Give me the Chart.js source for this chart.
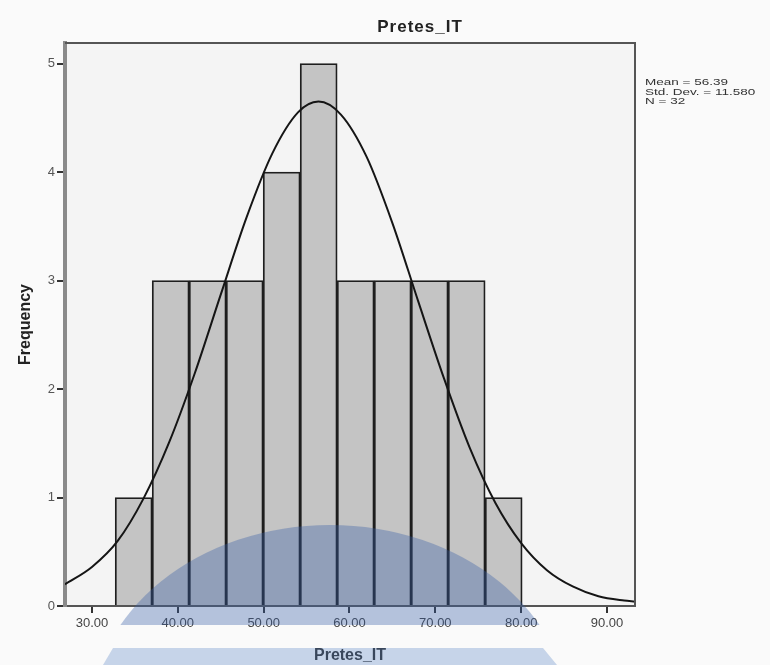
<!DOCTYPE html>
<html lang="en">
<head>
<meta charset="UTF-8"/>
<title>Pretes_IT</title>
<script src="https://cdn.jsdelivr.net/npm/chart.js@4.4.0/dist/chart.umd.min.js"></script>
<style>
  body { margin: 0; background: #fafafa; }
  #wrap { position: relative; width: 770px; height: 665px; font-family: "Liberation Sans", Arial, sans-serif; }
  #title { position: absolute; left: 420px; top: 17px; transform: translateX(-50%); font-weight: bold; font-size: 17px; letter-spacing: 1px; color: #222; }
  #stats { position: absolute; left: 645px; top: 78px; font-size: 9px; line-height: 9.5px; color: #333; transform: scaleX(1.5); transform-origin: left top; white-space: nowrap; }
  .dome { position: absolute; left: 0; top: 500px; width: 770px; height: 125px; overflow: hidden; pointer-events: none; }
  .dome div { position: absolute; left: 90px; top: 25px; width: 480px; height: 390px; border-radius: 50%; background: rgba(55, 95, 165, 0.36); }
  .band { position: absolute; left: 100px; top: 648px; width: 460px; height: 17px; background: rgba(100, 140, 200, 0.35);
          clip-path: polygon(13px 0, 443px 0, 457px 100%, 3px 100%); pointer-events: none; }
</style>
</head>
<body>
<div id="wrap">
  <canvas id="chart"></canvas>
  <div id="title">Pretes_IT</div>
  <div id="stats">Mean = 56.39<br>Std. Dev. = 11.580<br>N = 32</div>
  <div class="dome"><div></div></div>
  <div class="band"></div>
</div>
<script>
// histogram bins (centres) and counts
const binCenters = [34.86, 39.17, 43.48, 47.79, 52.10, 56.41, 60.72, 65.03, 69.34, 73.65, 77.96];
const frequencies = [1, 3, 3, 3, 4, 5, 3, 3, 3, 3, 1];

// normal curve
const curveX = [26.86, 30, 33, 36, 39, 42, 45, 48, 51, 54, 56.39, 59, 62, 65, 68, 71, 74, 77, 80, 83, 86, 89, 92, 93.26];
const curveY = [0.20, 0.36, 0.60, 0.99, 1.51, 2.15, 2.87, 3.58, 4.17, 4.55, 4.65, 4.53, 4.14, 3.53, 2.81, 2.10, 1.46, 0.95, 0.58, 0.33, 0.18, 0.09, 0.05, 0.04];

const xTicks = [30, 40, 50, 60, 70, 80, 90];
const yTicks = [0, 1, 2, 3, 4, 5];

const frame = {
  id: 'frame',
  beforeDraw(chart) {
    const { ctx, chartArea: a } = chart;
    ctx.save();
    ctx.fillStyle = '#f4f4f4';
    ctx.fillRect(a.left, a.top, a.right - a.left, a.bottom - a.top);
    ctx.restore();
  },
  afterDraw(chart) {
    const { ctx, chartArea: a } = chart;
    ctx.save();
    ctx.strokeStyle = '#555';
    ctx.lineWidth = 2;
    ctx.beginPath();
    ctx.moveTo(a.left, a.top);
    ctx.lineTo(a.right, a.top);
    ctx.lineTo(a.right, a.bottom);
    ctx.stroke();
    ctx.restore();
  }
};

const ctx = document.getElementById('chart').getContext('2d');
new Chart(ctx, {
  type: 'bar',
  data: {
    datasets: [{
      type: 'line',
      data: curveX.map((x, i) => ({ x: x, y: curveY[i] })),
      borderColor: '#151515',
      borderWidth: 2,
      pointRadius: 0,
      cubicInterpolationMode: 'monotone',
      order: 0
    }, {
      data: binCenters.map((x, i) => ({ x: x, y: frequencies[i] })),
      backgroundColor: '#c4c4c4',
      borderColor: '#1e1e1e',
      borderWidth: 1.8,
      barPercentage: 1,
      categoryPercentage: 1,
      order: 1
    }]
  },
  options: {
    responsive: true,
    maintainAspectRatio: false,
    animation: false,
    layout: { padding: { left: 0, right: 135, top: 43, bottom: 0 } },
    plugins: { legend: { display: false }, tooltip: { enabled: false } },
    scales: {
      x: {
        type: 'linear',
        min: 26.86,
        max: 93.26,
        offset: false,
        afterFit(scale) { scale.height = 59; },
        afterBuildTicks(scale) { scale.ticks = xTicks.map(v => ({ value: v })); },
        grid: { offset: false, drawOnChartArea: false, drawTicks: true, tickLength: 7, tickColor: '#333', lineWidth: 2 },
        border: { color: '#555', width: 2 },
        ticks: {
          padding: 3,
          color: '#444',
          font: { family: 'Liberation Sans', size: 13 },
          callback: v => v.toFixed(2)
        },
        title: {
          display: true,
          text: 'Pretes_IT',
          color: '#222',
          padding: { top: 0, bottom: 0 },
          font: { family: 'Liberation Sans', size: 16, weight: 'bold', lineHeight: 1.2 }
        }
      },
      y: {
        min: 0,
        max: 5.19,
        afterFit(scale) { scale.width = 65; },
        afterBuildTicks(scale) { scale.ticks = yTicks.map(v => ({ value: v })); },
        grid: { drawOnChartArea: false, drawTicks: true, tickLength: 8, tickColor: '#333', lineWidth: 2 },
        border: { color: '#8a8a8a', width: 4 },
        ticks: {
          padding: 2,
          color: '#555',
          font: { family: 'Liberation Sans', size: 13 }
        },
        title: {
          display: true,
          text: 'Frequency',
          color: '#222',
          padding: { top: 16, bottom: 0 },
          font: { family: 'Liberation Sans', size: 16, weight: 'bold', lineHeight: 1.2 }
        }
      }
    }
  },
  plugins: [frame]
});
</script>
</body>
</html>
